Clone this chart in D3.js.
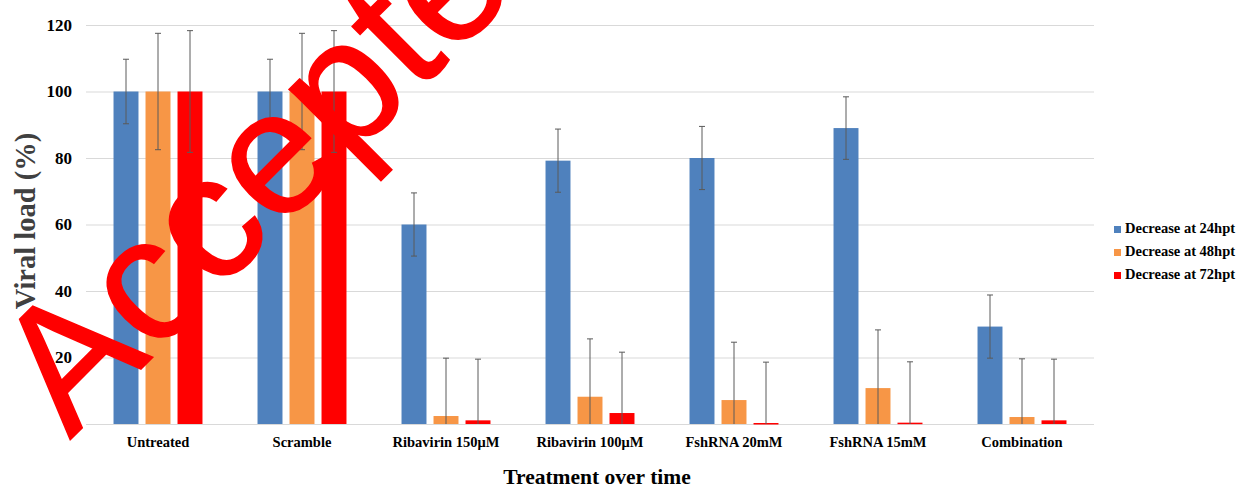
<!DOCTYPE html>
<html lang="en">
<head>
<meta charset="utf-8">
<title>Viral load</title>
<script src="https://d3js.org/d3.v7.min.js"></script>
<style>
  body { margin: 0; background: #fff; }
  svg { display: block; }
</style>
</head>
<body>
<div class="chart"></div>
<script>
// data
var categories = ["Untreated", "Scramble", "Ribavirin 150\u03bcM", "Ribavirin 100\u03bcM",
                  "FshRNA 20mM", "FshRNA 15mM", "Combination"];
var series = ["Decrease at 24hpt", "Decrease at 48hpt", "Decrease at 72hpt"];
var colors = ["#4f81bd", "#f79646", "#ff0000"];

var values24 = [100, 100, 60, 79.2, 80, 89, 29.3];
var values48 = [100, 100, 2.4, 8.2, 7.2, 10.8, 2.1];
var values72 = [100, 100, 1.1, 3.3, 0.3, 0.4, 1.1];

var err24 = [9.7, 9.7, 9.5, 9.5, 9.5, 9.4, 9.5];
var err48 = [17.5, 17.5, 17.4, 17.4, 17.4, 17.5, 17.5];
var err72 = [18.3, 18.3, 18.4, 18.3, 18.3, 18.3, 18.4];

var yTicks = [0, 20, 40, 60, 80, 100, 120];

var allValues = [values24, values48, values72];
var allErrs = [err24, err48, err72];

const width = 1239, height = 488;
const plotLeft = 86, plotRight = 1094, plotTop = 25, plotBottom = 424;
const serif = "'Liberation Serif', 'Times New Roman', serif";

const svg = d3.select(".chart").append("svg")
    .attr("width", width)
    .attr("height", height);

svg.append("rect").attr("width", width).attr("height", height).attr("fill", "#fff");

const x0 = d3.scaleBand().domain(categories).range([plotLeft, plotRight]);
const x1 = d3.scaleBand().domain(series).range([0, x0.bandwidth()])
    .paddingInner(0.22).paddingOuter(0.86);
const y = d3.scaleLinear().domain([0, 120]).range([plotBottom, plotTop]);

/* gridlines */
svg.append("g")
    .selectAll("line")
    .data(yTicks)
    .enter()
    .append("line")
    .attr("x1", plotLeft)
    .attr("x2", plotRight)
    .attr("y1", d => y(d) + 0.5)
    .attr("y2", d => y(d) + 0.5)
    .attr("stroke", "#d9d9d9")
    .attr("stroke-width", 1.2);

/* y axis labels */
const yAxis = svg.append("g")
    .attr("transform", "translate(" + (plotLeft - 14) + ",0)")
    .call(d3.axisLeft(y).tickValues(yTicks.slice(1)).tickSize(0).tickPadding(0));
yAxis.select(".domain").remove();
yAxis.selectAll("text")
    .attr("font-family", serif)
    .attr("font-weight", "bold")
    .attr("font-size", "17px")
    .attr("fill", "#000");

/* bars */
var rows = [];
categories.forEach((c, i) => {
    series.forEach((s, j) => {
        rows.push({cat: c, ser: s, j: j, v: allValues[j][i], e: allErrs[j][i]});
    });
});

svg.append("g")
    .selectAll("rect")
    .data(rows)
    .enter()
    .append("rect")
    .attr("x", d => x0(d.cat) + x1(d.ser))
    .attr("y", d => y(d.v))
    .attr("width", x1.bandwidth())
    .attr("height", d => Math.max(1.5, y(0) - y(d.v)))
    .attr("fill", d => colors[d.j]);

/* error bars */
const cx = d => x0(d.cat) + x1(d.ser) + x1.bandwidth() / 2;
const errs = svg.append("g")
    .attr("stroke", "#5a5a5a")
    .attr("stroke-width", 1);
errs.selectAll("line.v")
    .data(rows)
    .enter()
    .append("line")
    .attr("class", "v")
    .attr("x1", cx)
    .attr("x2", cx)
    .attr("y1", d => y(d.v + d.e))
    .attr("y2", d => y(Math.max(0, d.v - d.e)));
errs.selectAll("line.cap")
    .data(rows)
    .enter()
    .append("line")
    .attr("class", "cap")
    .attr("x1", d => cx(d) - 3)
    .attr("x2", d => cx(d) + 3)
    .attr("y1", d => y(d.v + d.e))
    .attr("y2", d => y(d.v + d.e));
errs.selectAll("line.bot")
    .data(rows.filter(d => d.v - d.e > 0))
    .enter()
    .append("line")
    .attr("class", "bot")
    .attr("x1", d => cx(d) - 3)
    .attr("x2", d => cx(d) + 3)
    .attr("y1", d => y(d.v - d.e))
    .attr("y2", d => y(d.v - d.e));

/* category labels */
svg.append("g")
    .selectAll("text")
    .data(categories)
    .enter()
    .append("text")
    .attr("x", d => x0(d) + x0.bandwidth() / 2)
    .attr("y", plotBottom + 23)
    .attr("text-anchor", "middle")
    .attr("font-family", serif)
    .attr("font-weight", "bold")
    .attr("font-size", "14.5px")
    .text(d => d);

/* axis titles */
svg.append("text")
    .attr("x", 597)
    .attr("y", 484)
    .attr("text-anchor", "middle")
    .attr("font-family", serif)
    .attr("font-weight", "bold")
    .attr("font-size", "21.5px")
    .text("Treatment over time");

svg.append("text")
    .attr("transform", "translate(35,221) rotate(-90)")
    .attr("text-anchor", "middle")
    .attr("font-family", serif)
    .attr("font-weight", "bold")
    .attr("font-size", "28.5px")
    .attr("fill", "#404040")
    .text("Viral load (%)");

/* legend */
const legend = svg.append("g")
    .selectAll("g")
    .data(series)
    .enter()
    .append("g")
    .attr("transform", (d, i) => "translate(1114," + (233 + i * 23) + ")");
legend.append("rect")
    .attr("x", 0)
    .attr("y", -7)
    .attr("width", 7)
    .attr("height", 7)
    .attr("fill", (d, i) => colors[i]);
legend.append("text")
    .attr("x", 11)
    .attr("y", 0)
    .attr("font-family", serif)
    .attr("font-weight", "bold")
    .attr("font-size", "14.5px")
    .text(d => d);

/* watermark */
svg.append("text")
    .attr("transform", "translate(70,440) rotate(-45)")
    .attr("font-family", "'Liberation Sans', Arial, sans-serif")
    .attr("font-size", "176px")
    .attr("fill", "#ff0000")
    .attr("stroke", "#ff0000")
    .attr("stroke-width", 1.5)
    .text("Accepted");
</script>
</body>
</html>
